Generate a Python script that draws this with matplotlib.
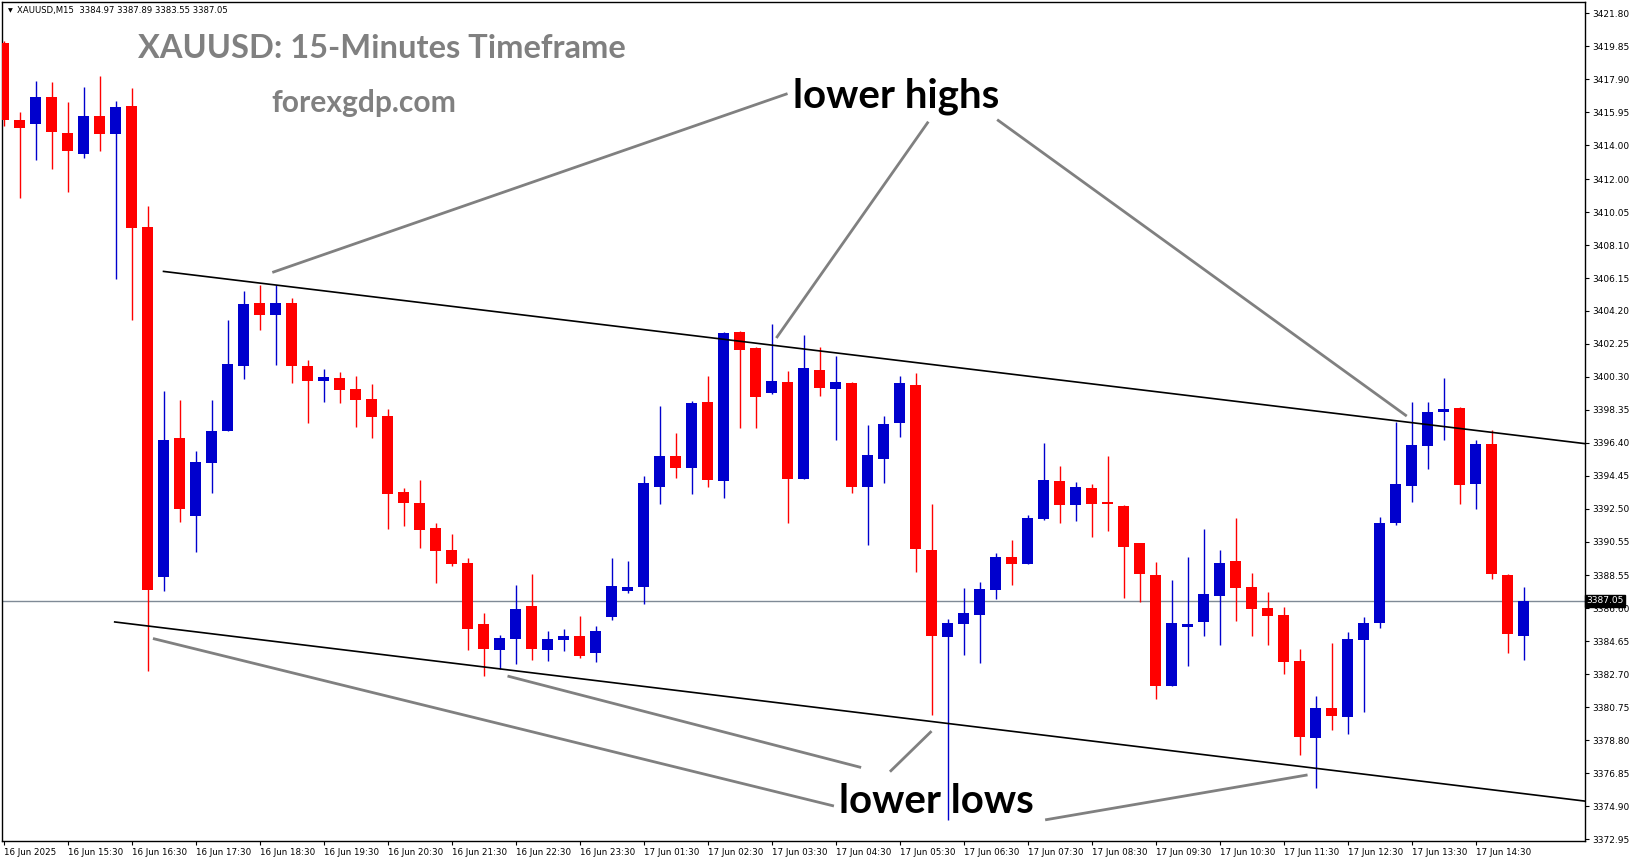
import numpy as np
import matplotlib.pyplot as plt
from matplotlib import transforms

# OHLC de las velas M15, de izquierda a derecha
opens = [3420.05, 3415.49, 3415.24, 3416.85, 3414.72, 3413.51, 3415.75, 3414.68, 3416.34, 3409.18,
         3388.44, 3396.70, 3392.04, 3395.18, 3397.07, 3400.93, 3404.69, 3403.94, 3404.69, 3400.95,
         3400.07, 3400.23, 3399.58, 3398.99, 3397.98, 3393.49, 3392.84, 3391.36, 3390.06, 3389.29,
         3385.67, 3384.14, 3384.79, 3386.74, 3384.14, 3384.73, 3384.96, 3383.96, 3386.09, 3387.65,
         3387.89, 3393.80, 3395.62, 3394.93, 3398.81, 3394.16, 3402.96, 3402.01, 3399.37, 3400.00,
         3394.28, 3400.71, 3399.60, 3399.94, 3393.80, 3395.46, 3397.59, 3399.82, 3390.05, 3384.93,
         3385.70, 3386.23, 3387.71, 3389.66, 3389.25, 3391.91, 3394.14, 3392.74, 3393.72, 3392.90,
         3392.66, 3390.47, 3388.58, 3382.03, 3385.50, 3385.82, 3387.35, 3389.40, 3387.87, 3386.62,
         3386.21, 3383.49, 3378.95, 3380.71, 3380.19, 3384.75, 3385.76, 3391.67, 3393.86, 3396.23,
         3398.24, 3398.46, 3393.98, 3396.33, 3388.57, 3384.97]
highs = [3420.15, 3415.98, 3417.79, 3417.74, 3416.57, 3417.43, 3418.09, 3416.62, 3417.37, 3410.42,
         3399.48, 3398.94, 3395.92, 3398.94, 3403.69, 3405.39, 3405.74, 3405.74, 3404.97, 3401.30,
         3400.77, 3400.59, 3400.35, 3399.88, 3398.38, 3393.72, 3394.20, 3391.63, 3391.00, 3389.58,
         3386.33, 3385.02, 3387.98, 3388.63, 3385.26, 3385.38, 3386.15, 3385.56, 3389.58, 3389.40,
         3394.43, 3398.58, 3396.98, 3398.87, 3400.35, 3402.96, 3403.00, 3402.05, 3403.43, 3400.65,
         3402.78, 3402.05, 3401.53, 3399.98, 3397.45, 3397.98, 3400.35, 3400.53, 3392.78, 3385.97,
         3387.83, 3388.18, 3389.86, 3390.65, 3392.13, 3396.39, 3395.03, 3394.08, 3393.96, 3395.62,
         3392.70, 3390.50, 3389.35, 3388.28, 3389.66, 3391.30, 3390.06, 3391.96, 3388.70, 3387.57,
         3386.68, 3384.20, 3381.42, 3384.55, 3385.20, 3386.09, 3392.01, 3397.65, 3398.81, 3398.81,
         3400.23, 3398.52, 3396.56, 3397.16, 3388.65, 3387.89]
lows = [3415.17, 3410.91, 3413.11, 3412.60, 3411.22, 3413.27, 3413.69, 3406.10, 3403.69, 3382.90,
        3387.62, 3391.69, 3389.92, 3393.42, 3397.07, 3400.16, 3403.06, 3401.02, 3399.95, 3397.56,
        3398.83, 3398.77, 3397.35, 3396.70, 3391.32, 3391.50, 3390.19, 3388.08, 3389.13, 3384.14,
        3382.60, 3382.99, 3383.31, 3383.54, 3383.50, 3384.08, 3383.66, 3383.43, 3385.91, 3387.50,
        3386.88, 3392.80, 3394.34, 3393.39, 3393.80, 3393.15, 3397.30, 3397.29, 3399.30, 3391.67,
        3394.28, 3399.19, 3396.58, 3393.45, 3390.37, 3394.04, 3396.76, 3388.77, 3380.29, 3374.11,
        3383.84, 3383.37, 3387.16, 3387.99, 3389.25, 3391.83, 3391.67, 3391.79, 3390.85, 3391.20,
        3387.24, 3387.00, 3381.26, 3382.03, 3383.21, 3384.99, 3384.46, 3385.87, 3384.99, 3384.45,
        3382.74, 3377.95, 3375.95, 3379.42, 3379.19, 3380.49, 3385.46, 3391.55, 3392.92, 3394.87,
        3396.58, 3392.80, 3392.50, 3388.36, 3383.95, 3383.55]
closes = [3415.49, 3415.05, 3416.85, 3414.77, 3413.69, 3415.75, 3414.68, 3416.27, 3409.09, 3387.67,
          3396.58, 3392.46, 3395.27, 3397.12, 3401.07, 3404.62, 3403.94, 3404.69, 3400.93, 3400.04,
          3400.29, 3399.54, 3398.95, 3397.94, 3393.39, 3392.86, 3391.26, 3390.02, 3389.25, 3385.40,
          3384.20, 3384.85, 3386.56, 3384.20, 3384.79, 3384.96, 3383.78, 3385.26, 3387.92, 3387.89,
          3394.02, 3395.62, 3394.93, 3398.73, 3394.22, 3402.90, 3401.91, 3399.13, 3400.06, 3394.28,
          3400.82, 3399.66, 3399.99, 3393.80, 3395.68, 3397.51, 3399.94, 3390.13, 3384.99, 3385.74,
          3386.35, 3387.75, 3389.64, 3389.25, 3391.95, 3394.20, 3392.74, 3393.78, 3392.80, 3392.76,
          3390.25, 3388.62, 3382.03, 3385.74, 3385.66, 3387.45, 3389.29, 3387.83, 3386.58, 3386.17,
          3383.45, 3379.01, 3380.71, 3380.25, 3384.79, 3385.74, 3391.65, 3393.96, 3396.27, 3398.22,
          3398.40, 3393.92, 3396.33, 3388.65, 3385.06, 3387.05]

time_labels = ['16 Jun 2025', '16 Jun 15:30', '16 Jun 16:30', '16 Jun 17:30', '16 Jun 18:30',
               '16 Jun 19:30', '16 Jun 20:30', '16 Jun 21:30', '16 Jun 22:30', '16 Jun 23:30',
               '17 Jun 01:30', '17 Jun 02:30', '17 Jun 03:30', '17 Jun 04:30', '17 Jun 05:30',
               '17 Jun 06:30', '17 Jun 07:30', '17 Jun 08:30', '17 Jun 09:30', '17 Jun 10:30',
               '17 Jun 11:30', '17 Jun 12:30', '17 Jun 13:30', '17 Jun 14:30']
price_ticks = [3421.80, 3419.85, 3417.90, 3415.95, 3414.00, 3412.00, 3410.05, 3408.10, 3406.15,
               3404.20, 3402.25, 3400.30, 3398.35, 3396.40, 3394.45, 3392.50, 3390.55, 3388.55,
               3386.60, 3384.65, 3382.70, 3380.75, 3378.80, 3376.85, 3374.90, 3372.95]
last_price = 3387.05
header = 'XAUUSD,M15  3384.97 3387.89 3383.55 3387.05'

# canal bajista (indice de vela, precio)
upper_channel = [(10.0, 3406.54), (98.84, 3396.35)]
lower_channel = [(6.95, 3385.80), (98.84, 3375.20)]

# flechas grises de las etiquetas
highs_text = (55.76, 3416.88)
highs_arrows = [[(49.0, 3417.06), (16.8, 3406.48)],
                [(57.8, 3415.40), (48.3, 3402.60)],
                [(62.1, 3415.52), (87.7, 3397.98)]]
lows_text = (58.3, 3375.15)
lows_arrows = [[(51.9, 3374.91), (9.34, 3384.82)],
               [(53.6, 3377.19), (31.5, 3382.60)],
               [(55.4, 3376.94), (58.0, 3379.34)],
               [(65.1, 3374.09), (81.5, 3376.75)]]

W, H = 1631, 861
fig = plt.figure(figsize=(W / 100, H / 100), dpi=100)
ax = fig.add_axes([2 / W, 20 / H, 1583 / W, 839 / H])

o = np.array(opens)
h = np.array(highs)
l = np.array(lows)
c = np.array(closes)
x = np.arange(len(o))
cols = np.where(c >= o, '#0000CD', '#FF0000')

# velas
ax.vlines(x, l, h, colors=cols, lw=1.0, zorder=2)
body = np.maximum(np.abs(c - o), 0.09)
ax.bar(x, body, bottom=np.minimum(o, c), width=0.69, color=cols, linewidth=0, zorder=3)

# linea del precio actual
ax.axhline(last_price, color='#7f8a96', lw=1.0, zorder=1)

# canal
for ln in (upper_channel, lower_channel):
    ax.plot([p[0] for p in ln], [p[1] for p in ln], color='black', lw=1.2, zorder=4)

for seg in highs_arrows + lows_arrows:
    ax.plot([p[0] for p in seg], [p[1] for p in seg], color='#808080', lw=2.0,
            solid_capstyle='butt', zorder=4)

ax.text(*highs_text, 'lower highs', fontsize=29, fontweight='bold', family='Lato',
        ha='center', va='center', zorder=5)
ax.text(*lows_text, 'lower lows', fontsize=29, fontweight='bold', family='Lato',
        ha='center', va='center', zorder=5)

ax.set_xlim(-0.094, 98.84)
ax.set_ylim(3372.84, 3422.48)

# ejes estilo MT4
ax.yaxis.tick_right()
ax.set_yticks(price_ticks)
ax.set_yticklabels(['%.2f' % v for v in price_ticks], fontsize=6.5)
ax.set_xticks(np.arange(0, 4 * len(time_labels), 4))
ax.set_xticklabels(time_labels, fontsize=6.3, ha='left')
ax.tick_params(axis='both', length=3, width=0.8, direction='out', pad=2, colors='black')
for lbl in ax.get_xticklabels():
    lbl.set_transform(lbl.get_transform() + transforms.ScaledTranslation(0.5 / 72, 0, fig.dpi_scale_trans))
for s in ax.spines.values():
    s.set_linewidth(1.0)

tr = transforms.blended_transform_factory(ax.transAxes, ax.transData)
ax.text(1.001, last_price, '3387.05', transform=tr, fontsize=6.5, color='white', ha='left',
        va='center', bbox=dict(boxstyle='square,pad=0.15', fc='black', ec='black'), zorder=6,
        clip_on=False)

# cabecera y titulos
fig.text(10 / W, 1 - 11 / H, '\u25bc', fontsize=4.5, ha='center', va='center')
fig.text(17 / W, 1 - 11 / H, header, fontsize=6.1, ha='left', va='center')
fig.text(382 / W, 1 - 48 / H, 'XAUUSD: 15-Minutes Timeframe', fontsize=23.5, fontweight='bold',
         family='Lato', color='#808080', ha='center', va='center')
fig.text(364 / W, 1 - 103 / H, 'forexgdp.com', fontsize=21.6, fontweight='bold',
         family='Lato', color='#808080', ha='center', va='center')

plt.savefig('out.png', dpi=100)
